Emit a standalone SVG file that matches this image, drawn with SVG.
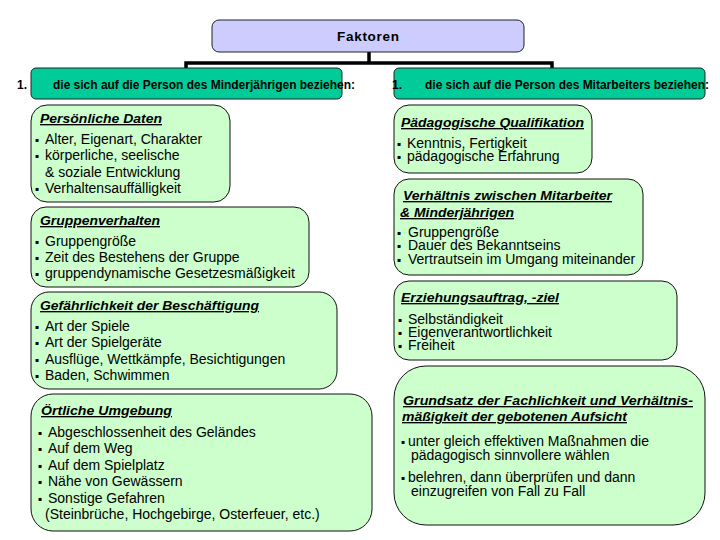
<svg xmlns="http://www.w3.org/2000/svg" width="720" height="540" viewBox="0 0 720 540">
<style>
text{font-family:"Liberation Sans",Arial,sans-serif;fill:#000}
.top{fill:#ccccff;stroke:#222;stroke-width:1}
.hdr{fill:#00cc99;stroke:#222;stroke-width:1}
.box{fill:#ccffcc;stroke:#111;stroke-width:1}
.h{font-size:12px;font-weight:bold}
.t{font-size:13.5px;font-weight:bold;font-style:italic;text-decoration:underline}
.i{font-size:14px}
.b{font-size:6px;font-family:"DejaVu Sans",sans-serif}
.con{fill:none;stroke:#000;stroke-width:3.5}
</style>
<g id="connectors">
<path class="con" d="M369,52 V63 M184.3,63 H553.7 M186,63 V68 M552,63 V68"/>
</g>
<g id="faktoren">
<rect class="top" x="212" y="20" width="312" height="32" rx="7"/>
<text x="368" y="41" font-size="13.5" font-weight="bold" text-anchor="middle" textLength="62" lengthAdjust="spacing">Faktoren</text>
</g>
<g id="header-left">
<rect class="hdr" x="31" y="68" width="311" height="31" rx="5"/>
<text class="h" x="17" y="89">1.</text>
<text class="h" x="53" y="89" textLength="302" lengthAdjust="spacingAndGlyphs">die sich auf die Person des Minderjährigen beziehen:</text>
</g>
<g id="header-right">
<rect class="hdr" x="394" y="68" width="311" height="31" rx="5"/>
<text class="h" x="392" y="89">1.</text>
<text class="h" x="425" y="89" textLength="284" lengthAdjust="spacingAndGlyphs">die sich auf die Person des Mitarbeiters beziehen:</text>
</g>
<g id="persoenliche-daten">
<rect class="box" x="31" y="105" width="199" height="97" rx="16"/>
<text class="t" x="40" y="123" textLength="122" lengthAdjust="spacingAndGlyphs">Persönliche Daten</text>
<text class="b" x="35" y="142">▪</text><text class="i" x="45" y="144">Alter, Eigenart, Charakter</text>
<text class="b" x="35" y="158">▪</text><text class="i" x="45" y="160">körperliche, seelische</text>
<text class="i" x="45" y="177">&amp; soziale Entwicklung</text>
<text class="b" x="35" y="191">▪</text><text class="i" x="45" y="193">Verhaltensauffälligkeit</text>
</g>
<g id="gruppenverhalten">
<rect class="box" x="31" y="207" width="278" height="80" rx="15"/>
<text class="t" x="40" y="225" textLength="120" lengthAdjust="spacingAndGlyphs">Gruppenverhalten</text>
<text class="b" x="35" y="244">▪</text><text class="i" x="45" y="246">Gruppengröße</text>
<text class="b" x="35" y="260">▪</text><text class="i" x="45" y="262">Zeit des Bestehens der Gruppe</text>
<text class="b" x="35" y="276">▪</text><text class="i" x="45" y="278">gruppendynamische Gesetzesmäßigkeit</text>
</g>
<g id="gefaehrlichkeit">
<rect class="box" x="31" y="292" width="306" height="97" rx="18"/>
<text class="t" x="40" y="310" textLength="219" lengthAdjust="spacingAndGlyphs">Gefährlichkeit der Beschäftigung</text>
<text class="b" x="35" y="329">▪</text><text class="i" x="45" y="331">Art der Spiele</text>
<text class="b" x="35" y="345">▪</text><text class="i" x="45" y="347">Art der Spielgeräte</text>
<text class="b" x="35" y="362">▪</text><text class="i" x="45" y="364">Ausflüge, Wettkämpfe, Besichtigungen</text>
<text class="b" x="35" y="378">▪</text><text class="i" x="45" y="380">Baden, Schwimmen</text>
</g>
<g id="oertliche-umgebung">
<rect class="box" x="31" y="394" width="341" height="137" rx="22"/>
<text class="t" x="41" y="415" textLength="131" lengthAdjust="spacingAndGlyphs">Örtliche Umgebung</text>
<text class="b" x="38" y="435">▪</text><text class="i" x="48" y="437">Abgeschlossenheit des Geländes</text>
<text class="b" x="38" y="451">▪</text><text class="i" x="48" y="453">Auf dem Weg</text>
<text class="b" x="38" y="468">▪</text><text class="i" x="48" y="470">Auf dem Spielplatz</text>
<text class="b" x="38" y="484">▪</text><text class="i" x="48" y="486">Nähe von Gewässern</text>
<text class="b" x="38" y="501">▪</text><text class="i" x="48" y="503">Sonstige Gefahren</text>
<text class="i" x="45" y="519">(Steinbrüche, Hochgebirge, Osterfeuer, etc.)</text>
</g>
<g id="paedagogische-qualifikation">
<rect class="box" x="394" y="105" width="198" height="68" rx="15"/>
<text class="t" x="401" y="127" textLength="183" lengthAdjust="spacingAndGlyphs">Pädagogische Qualifikation</text>
<text class="b" x="397" y="146">▪</text><text class="i" x="407" y="148">Kenntnis, Fertigkeit</text>
<text class="b" x="397" y="159">▪</text><text class="i" x="407" y="161">pädagogische Erfahrung</text>
</g>
<g id="verhaeltnis">
<rect class="box" x="394" y="179" width="249" height="96" rx="15"/>
<text class="t" x="403" y="200" textLength="209" lengthAdjust="spacingAndGlyphs">Verhältnis zwischen Mitarbeiter</text>
<text class="t" x="400" y="217" textLength="114" lengthAdjust="spacingAndGlyphs">&amp; Minderjährigen</text>
<text class="b" x="397" y="235">▪</text><text class="i" x="408" y="237">Gruppengröße</text>
<text class="b" x="397" y="248">▪</text><text class="i" x="408" y="250">Dauer des Bekanntseins</text>
<text class="b" x="397" y="262">▪</text><text class="i" x="408" y="264">Vertrautsein im Umgang miteinander</text>
</g>
<g id="erziehungsauftrag">
<rect class="box" x="394" y="281" width="283" height="79" rx="15"/>
<text class="t" x="401" y="302" textLength="158" lengthAdjust="spacingAndGlyphs">Erziehungsauftrag, -ziel</text>
<text class="b" x="398" y="322">▪</text><text class="i" x="408" y="324">Selbständigkeit</text>
<text class="b" x="398" y="335">▪</text><text class="i" x="408" y="337">Eigenverantwortlichkeit</text>
<text class="b" x="398" y="348">▪</text><text class="i" x="408" y="350">Freiheit</text>
</g>
<g id="grundsatz">
<rect class="box" x="394" y="366" width="311" height="159" rx="32"/>
<text class="t" x="403" y="405" textLength="290" lengthAdjust="spacingAndGlyphs">Grundsatz der Fachlichkeit und Verhältnis-</text>
<text class="t" x="402" y="421" textLength="225" lengthAdjust="spacingAndGlyphs">mäßigkeit der gebotenen Aufsicht</text>
<text class="b" x="401" y="444">▪</text><text class="i" x="408" y="446">unter gleich effektiven Maßnahmen die</text>
<text class="i" x="411" y="460">pädagogisch sinnvollere wählen</text>
<text class="b" x="401" y="480">▪</text><text class="i" x="408" y="482">belehren, dann überprüfen und dann</text>
<text class="i" x="411" y="496">einzugreifen von Fall zu Fall</text>
</g>
</svg>
